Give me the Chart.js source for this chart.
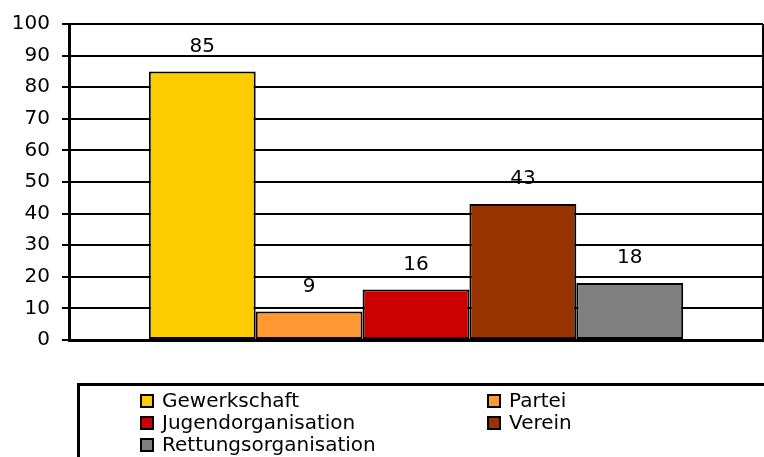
<!DOCTYPE html>
<html>
<head>
<meta charset="utf-8">
<script src="https://cdn.jsdelivr.net/npm/chart.js@4/dist/chart.umd.min.js"></script>
<style>
  html, body { margin: 0; padding: 0; background: #fff; }
</style>
</head>
<body>
<canvas id="chart" width="764" height="457"></canvas>
<script>
(function(){
    'use strict'

    var categories = [''];
    var seriesNames = ['Gewerkschaft', 'Partei', 'Jugendorganisation', 'Verein', 'Rettungsorganisation'];
    var seriesValues = [85, 9, 16, 43, 18];
    var seriesColors = ['#ffcc00', '#ff9933', '#cc0000', '#993300', '#808080'];
    var yTicks = [0, 10, 20, 30, 40, 50, 60, 70, 80, 90, 100];

    var FONT = '"DejaVu Sans", sans-serif';

    var datasets = seriesNames.map(function(name, i){
        return {
            label: name,
            data: [seriesValues[i]],
            backgroundColor: seriesColors[i],
            borderColor: '#000',
            borderWidth: 2,
            borderSkipped: false
        };
    });

    // value labels above the bars
    var valueLabels = {
        id: 'valueLabels',
        afterDatasetsDraw: function(chart){
            var ctx = chart.ctx;
            ctx.save();
            ctx.fillStyle = '#000';
            ctx.font = '20px ' + FONT;
            ctx.textAlign = 'center';
            ctx.textBaseline = 'middle';
            chart.data.datasets.forEach(function(ds, i){
                chart.getDatasetMeta(i).data.forEach(function(bar, j){
                    ctx.fillText(String(ds.data[j]), bar.x, bar.y - 25);
                });
            });
            ctx.restore();
        }
    };

    // right border and legend box like the original
    var frameAndLegend = {
        id: 'frameAndLegend',
        afterDraw: function(chart){
            var ctx = chart.ctx;
            var area = chart.chartArea;
            ctx.save();
            ctx.strokeStyle = '#000';
            ctx.lineWidth = 2;
            ctx.beginPath();
            ctx.moveTo(area.right, area.top);
            ctx.lineTo(area.right, area.bottom);
            ctx.stroke();

            ctx.lineWidth = 3;
            ctx.beginPath();
            ctx.moveTo(chart.width, 384.5);
            ctx.lineTo(78.5, 384.5);
            ctx.lineTo(78.5, chart.height);
            ctx.stroke();

            var cols = [141, 488];
            var rows = [401, 423, 445];
            ctx.font = '20px ' + FONT;
            ctx.textBaseline = 'middle';
            ctx.textAlign = 'left';
            chart.data.datasets.forEach(function(ds, i){
                var x = cols[i % 2];
                var y = rows[Math.floor(i / 2)];
                ctx.fillStyle = ds.backgroundColor;
                ctx.fillRect(x, y - 6, 12, 12);
                ctx.lineWidth = 2;
                ctx.strokeStyle = '#000';
                ctx.strokeRect(x, y - 6, 12, 12);
                ctx.fillStyle = '#000';
                ctx.fillText(ds.label, x + 21, y + 1);
            });
            ctx.restore();
        }
    };

    new Chart(document.getElementById('chart'), {
        type: 'bar',
        data: {
            labels: categories,
            datasets: datasets
        },
        options: {
            responsive: false,
            animation: false,
            categoryPercentage: 0.77,
            barPercentage: 1,
            layout: {
                padding: { top: 23, bottom: 117, left: 0, right: 1 }
            },
            plugins: {
                legend: { display: false },
                tooltip: { enabled: false }
            },
            scales: {
                x: {
                    grid: { display: false },
                    ticks: { display: false },
                    border: { color: '#000', width: 3 },
                    afterFit: function(scale){ scale.height = 0; }
                },
                y: {
                    min: 0,
                    max: 100,
                    afterBuildTicks: function(scale){
                        scale.ticks = yTicks.map(function(v){ return { value: v }; });
                    },
                    afterFit: function(scale){ scale.width = 69; },
                    ticks: {
                        color: '#000',
                        font: { family: FONT, size: 20 },
                        padding: 12
                    },
                    grid: {
                        color: '#000',
                        lineWidth: 2,
                        tickLength: 7,
                        tickColor: '#000'
                    },
                    border: { color: '#000', width: 3 }
                }
            }
        },
        plugins: [valueLabels, frameAndLegend]
    });
})();
</script>
</body>
</html>
